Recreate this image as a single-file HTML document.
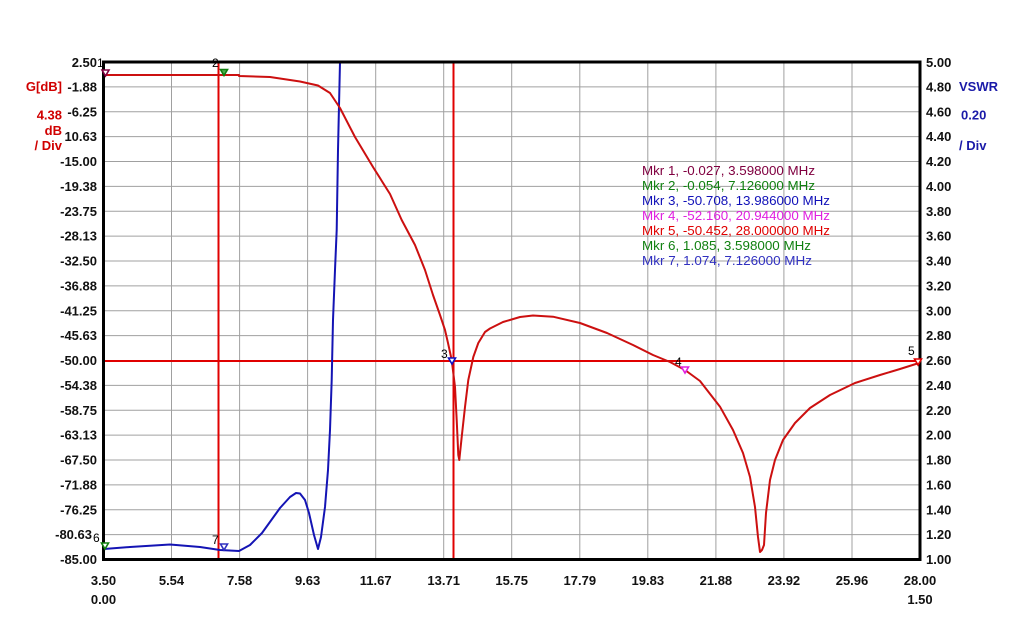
<!DOCTYPE html>
<html><head><meta charset="utf-8"><style>
html,body{margin:0;padding:0;background:#fff;}
svg{display:block;}
text{font-family:"Liberation Sans",Arial,sans-serif;}
.ax{font-size:13px;font-weight:bold;fill:#111;}
.lg{font-size:13px;}
.ml{font-size:12px;fill:#000;}
</style></head><body>
<svg width="1024" height="623" viewBox="0 0 1024 623" xmlns="http://www.w3.org/2000/svg">
<rect width="1024" height="623" fill="#fff"/>
<g stroke="#a0a0a0" stroke-width="1">
<line x1="171.5" y1="62" x2="171.5" y2="559.5"/>
<line x1="239.6" y1="62" x2="239.6" y2="559.5"/>
<line x1="307.6" y1="62" x2="307.6" y2="559.5"/>
<line x1="375.7" y1="62" x2="375.7" y2="559.5"/>
<line x1="443.7" y1="62" x2="443.7" y2="559.5"/>
<line x1="511.7" y1="62" x2="511.7" y2="559.5"/>
<line x1="579.8" y1="62" x2="579.8" y2="559.5"/>
<line x1="647.8" y1="62" x2="647.8" y2="559.5"/>
<line x1="715.9" y1="62" x2="715.9" y2="559.5"/>
<line x1="783.9" y1="62" x2="783.9" y2="559.5"/>
<line x1="852" y1="62" x2="852" y2="559.5"/>
<line x1="103.5" y1="86.9" x2="920" y2="86.9"/>
<line x1="103.5" y1="111.8" x2="920" y2="111.8"/>
<line x1="103.5" y1="136.6" x2="920" y2="136.6"/>
<line x1="103.5" y1="161.5" x2="920" y2="161.5"/>
<line x1="103.5" y1="186.4" x2="920" y2="186.4"/>
<line x1="103.5" y1="211.3" x2="920" y2="211.3"/>
<line x1="103.5" y1="236.1" x2="920" y2="236.1"/>
<line x1="103.5" y1="261" x2="920" y2="261"/>
<line x1="103.5" y1="285.9" x2="920" y2="285.9"/>
<line x1="103.5" y1="310.8" x2="920" y2="310.8"/>
<line x1="103.5" y1="335.6" x2="920" y2="335.6"/>
<line x1="103.5" y1="385.4" x2="920" y2="385.4"/>
<line x1="103.5" y1="410.3" x2="920" y2="410.3"/>
<line x1="103.5" y1="435.1" x2="920" y2="435.1"/>
<line x1="103.5" y1="460" x2="920" y2="460"/>
<line x1="103.5" y1="484.9" x2="920" y2="484.9"/>
<line x1="103.5" y1="509.8" x2="920" y2="509.8"/>
<line x1="103.5" y1="534.6" x2="920" y2="534.6"/>
</g>
<!-- marker lines -->
<g stroke="#e00000" stroke-width="2">
<line x1="103.5" y1="361" x2="920" y2="361"/>
<line x1="218.5" y1="62" x2="218.5" y2="559.5"/>
<line x1="453.5" y1="62" x2="453.5" y2="559.5"/>
</g>
<!-- blue VSWR -->
<polyline fill="none" stroke="#1414b4" stroke-width="2" stroke-linejoin="round" points="104,549 130,547 170,544.5 200,547 220,550 239,551 250,545 262,533 280,508 290,497 296,493 300,493.5 305,500 309,513 314,535 318,549 321,537 325,507 328,470 330,430 331.7,380 333,320 335,270 336.7,230 338,150 340,62"/>
<!-- red gain -->
<polyline fill="none" stroke="#cc1010" stroke-width="2" stroke-linejoin="round" points="104,75 239,75 239,76 270,77 300,81.5 318,85.5 330,93 340,108 355,137 373,167 390,194 401.7,220 415,245 425,270 433,295 440,315 445,330 448,343 451.7,360 455,387 456.7,420 458.3,455 459.3,460 461.7,437 465,407 468.3,380 473.3,357 478.3,343 485,332 490,328.5 503,322 520,317 533,315.5 553,316.7 580,323 607,333 633,345 653,355 670,362 685,370 700,381 720,406.7 733,430 743,453 750,477 755,507 758,537 760,552 762,550 764,545 766,513 770,480 775,460 783,440 795,423 810,408 830,395 855,383 880,375 900,369 919,363"/>
<!-- border -->
<rect x="103.5" y="62" width="816.5" height="497.5" fill="none" stroke="#000" stroke-width="3"/>
<!-- markers -->
<g fill="#fff" stroke-width="1.6">
<polygon points="102,70 109,70 105.5,76" stroke="#800040"/>
<polygon points="220.5,69.5 227.5,69.5 224,75.5" stroke="#108010" fill="#50b050"/>
<polygon points="448.5,358 455.5,358 452,364" stroke="#1010c0"/>
<polygon points="681.5,367 688.5,367 685,373" stroke="#e020e0"/>
<polygon points="914.5,359 921.5,359 918,365" stroke="#e00000"/>
<polygon points="101.5,543 108.5,543 105,549" stroke="#108010"/>
<polygon points="220.5,544 227.5,544 224,550" stroke="#3030c0"/>
</g>
<g class="ml">
<text x="97" y="67">1</text>
<text x="212" y="67">2</text>
<text x="441" y="358">3</text>
<text x="675" y="366">4</text>
<text x="908" y="355">5</text>
<text x="93" y="542">6</text>
<text x="212" y="544">7</text>
</g>
<!-- left axis labels -->
<g class="ax" text-anchor="end">
<text x="97" y="67">2.50</text>
<text x="97" y="91.5">-1.88</text>
<text x="97" y="116.3">-6.25</text>
<text x="97" y="141.1">10.63</text>
<text x="97" y="166">-15.00</text>
<text x="97" y="190.9">-19.38</text>
<text x="97" y="215.8">-23.75</text>
<text x="97" y="240.6">-28.13</text>
<text x="97" y="265.5">-32.50</text>
<text x="97" y="290.4">-36.88</text>
<text x="97" y="315.3">-41.25</text>
<text x="97" y="340.1">-45.63</text>
<text x="97" y="365">-50.00</text>
<text x="97" y="389.9">-54.38</text>
<text x="97" y="414.8">-58.75</text>
<text x="97" y="439.6">-63.13</text>
<text x="97" y="464.5">-67.50</text>
<text x="97" y="489.4">-71.88</text>
<text x="97" y="514.3">-76.25</text>
<text x="92" y="539.1">-80.63</text>
<text x="97" y="564">-85.00</text>
</g>
<!-- right axis labels -->
<g class="ax">
<text x="926" y="67">5.00</text>
<text x="926" y="91.5">4.80</text>
<text x="926" y="116.3">4.60</text>
<text x="926" y="141.1">4.40</text>
<text x="926" y="166">4.20</text>
<text x="926" y="190.9">4.00</text>
<text x="926" y="215.8">3.80</text>
<text x="926" y="240.6">3.60</text>
<text x="926" y="265.5">3.40</text>
<text x="926" y="290.4">3.20</text>
<text x="926" y="315.3">3.00</text>
<text x="926" y="340.1">2.80</text>
<text x="926" y="365">2.60</text>
<text x="926" y="389.9">2.40</text>
<text x="926" y="414.8">2.20</text>
<text x="926" y="439.6">2.00</text>
<text x="926" y="464.5">1.80</text>
<text x="926" y="489.4">1.60</text>
<text x="926" y="514.3">1.40</text>
<text x="926" y="539.1">1.20</text>
<text x="926" y="564">1.00</text>
</g>
<!-- bottom axis labels -->
<g class="ax" text-anchor="middle">
<text x="103.5" y="585">3.50</text>
<text x="171.5" y="585">5.54</text>
<text x="239.6" y="585">7.58</text>
<text x="307.6" y="585">9.63</text>
<text x="375.7" y="585">11.67</text>
<text x="443.7" y="585">13.71</text>
<text x="511.7" y="585">15.75</text>
<text x="579.8" y="585">17.79</text>
<text x="647.8" y="585">19.83</text>
<text x="715.9" y="585">21.88</text>
<text x="783.9" y="585">23.92</text>
<text x="852" y="585">25.96</text>
<text x="920" y="585">28.00</text>
<text x="103.5" y="604">0.00</text>
<text x="920" y="604">1.50</text>
</g>
<!-- axis titles -->
<g class="ax" style="fill:#d00000" text-anchor="end">
<text x="62" y="91">G[dB]</text>
<text x="62" y="119.5">4.38</text>
<text x="62" y="135">dB</text>
<text x="62" y="150">/ Div</text>
</g>
<g class="ax" style="fill:#1a1aa8">
<text x="959" y="91">VSWR</text>
<text x="961" y="119.5">0.20</text>
<text x="959" y="150">/ Div</text>
</g>
<!-- legend -->
<g class="lg">
<text x="642" y="175" fill="#800040" textLength="173" lengthAdjust="spacingAndGlyphs">Mkr 1, -0.027, 3.598000 MHz</text>
<text x="642" y="190" fill="#108010" textLength="173" lengthAdjust="spacingAndGlyphs">Mkr 2, -0.054, 7.126000 MHz</text>
<text x="642" y="205" fill="#1010b8" textLength="188" lengthAdjust="spacingAndGlyphs">Mkr 3, -50.708, 13.986000 MHz</text>
<text x="642" y="220" fill="#e020e0" textLength="188" lengthAdjust="spacingAndGlyphs">Mkr 4, -52.160, 20.944000 MHz</text>
<text x="642" y="235" fill="#e00000" textLength="188" lengthAdjust="spacingAndGlyphs">Mkr 5, -50.452, 28.000000 MHz</text>
<text x="642" y="250" fill="#108010" textLength="169" lengthAdjust="spacingAndGlyphs">Mkr 6, 1.085, 3.598000 MHz</text>
<text x="642" y="265" fill="#3030c0" textLength="170" lengthAdjust="spacingAndGlyphs">Mkr 7, 1.074, 7.126000 MHz</text>
</g>
</svg>
</body></html>
